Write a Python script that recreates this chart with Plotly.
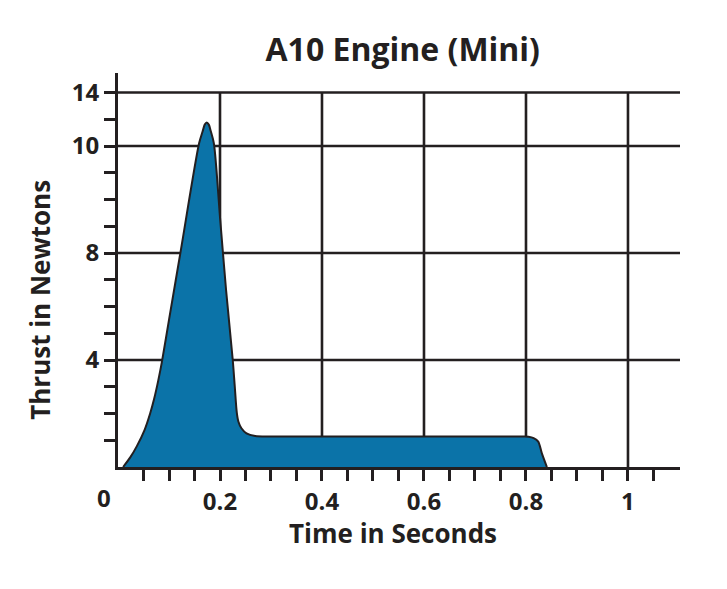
import plotly.graph_objects as go

INK = "#231f20"
FILL = "#0b73a8"
FONT = "Open Sans, Arial, sans-serif"

# thrust curve (time s, thrust on the chart's linear scale)
time_s = [0.010, 0.024, 0.037, 0.052, 0.063, 0.071, 0.079, 0.086, 0.100, 0.123, 0.159,
          0.166, 0.170, 0.174, 0.178, 0.182, 0.188, 0.2006, 0.212, 0.225, 0.229,
          0.233, 0.236, 0.242, 0.252, 0.269, 0.298, 0.50, 0.795, 0.805, 0.815,
          0.824, 0.831, 0.841]
thrust = [0.0, 0.36, 0.78, 1.38, 2.0, 2.56, 3.24, 3.92, 5.5, 8.08, 12.1,
          12.55, 12.8, 12.88, 12.8, 12.55, 12.1, 9.2, 6.6, 4.0, 3.0,
          2.02, 1.70, 1.45, 1.26, 1.16, 1.14, 1.14, 1.14, 1.13, 1.08,
          0.95, 0.52, 0.0]

x_grid = [0.2, 0.4, 0.6, 0.8, 1.0]
x_ticks = [round(0.05 * i, 2) for i in range(1, 22)]
x_labels = {0.2: "0.2", 0.4: "0.4", 0.6: "0.6", 0.8: "0.8", 1.0: "1"}
y_grid = [4, 8, 12, 14]
y_ticks = list(range(1, 15))
y_labels = {4: "4", 8: "8", 12: "10", 14: "14"}

fig = go.Figure()
# grid first, under the curve
for gx in x_grid:
    fig.add_shape(type="line", x0=gx, x1=gx, y0=0, y1=14, xref="x", yref="y",
                  line=dict(color=INK, width=2.6), layer="below")
for gy in y_grid:
    fig.add_shape(type="line", x0=0, x1=1.102, y0=gy, y1=gy, xref="x", yref="y",
                  line=dict(color=INK, width=2.6), layer="below")

fig.add_trace(go.Scatter(x=time_s, y=thrust, mode="lines", fill="tozeroy",
                         fillcolor=FILL, line=dict(color=INK, width=2, shape="spline", smoothing=0.8),
                         hoverinfo="skip", showlegend=False))

# page body adds an 8px margin, so the figure is 8px smaller each way
fig.update_layout(
    width=719, height=581, paper_bgcolor="white", plot_bgcolor="rgba(0,0,0,0)",
    margin=dict(l=110, r=47, t=65, b=122),
    font=dict(family=FONT, color=INK, size=23, weight=700),
    title=dict(text="A10 Engine (Mini)", x=0.549, xanchor="center", y=0.928, yanchor="middle",
               font=dict(size=32, weight=700, color=INK)),
)
fig.update_xaxes(range=[0, 1.102], showgrid=False, zeroline=False, automargin=False,
                 showline=True, linecolor=INK, linewidth=3,
                 tickmode="array", tickvals=x_ticks,
                 ticktext=[x_labels.get(v, "") for v in x_ticks],
                 ticks="outside", ticklen=11, tickwidth=2.6, tickcolor=INK,
                 tickfont=dict(size=24, weight=700))
fig.update_yaxes(range=[0, 14.73], showgrid=False, zeroline=False, automargin=False,
                 showline=True, linecolor=INK, linewidth=3,
                 tickmode="array", tickvals=y_ticks,
                 ticktext=[y_labels.get(v, "") for v in y_ticks],
                 ticks="outside", ticklen=11, tickwidth=2.6, tickcolor=INK,
                 tickfont=dict(size=24, weight=700))

fig.add_annotation(text="0", x=0, y=0, xref="x", yref="y", showarrow=False,
                   xshift=-14, yshift=-30, font=dict(size=24, weight=700, color=INK))
fig.add_annotation(text="Time in Seconds", x=0.49, y=-0.1675, xref="paper", yref="paper",
                   showarrow=False, yanchor="middle", font=dict(size=26, weight=700, color=INK))
fig.add_annotation(text="Thrust in Newtons", x=-0.139, y=0.424, xref="paper", yref="paper",
                   showarrow=False, textangle=-90, xanchor="center", yanchor="middle",
                   font=dict(size=26, weight=700, color=INK))

fig.write_html("out.html")
